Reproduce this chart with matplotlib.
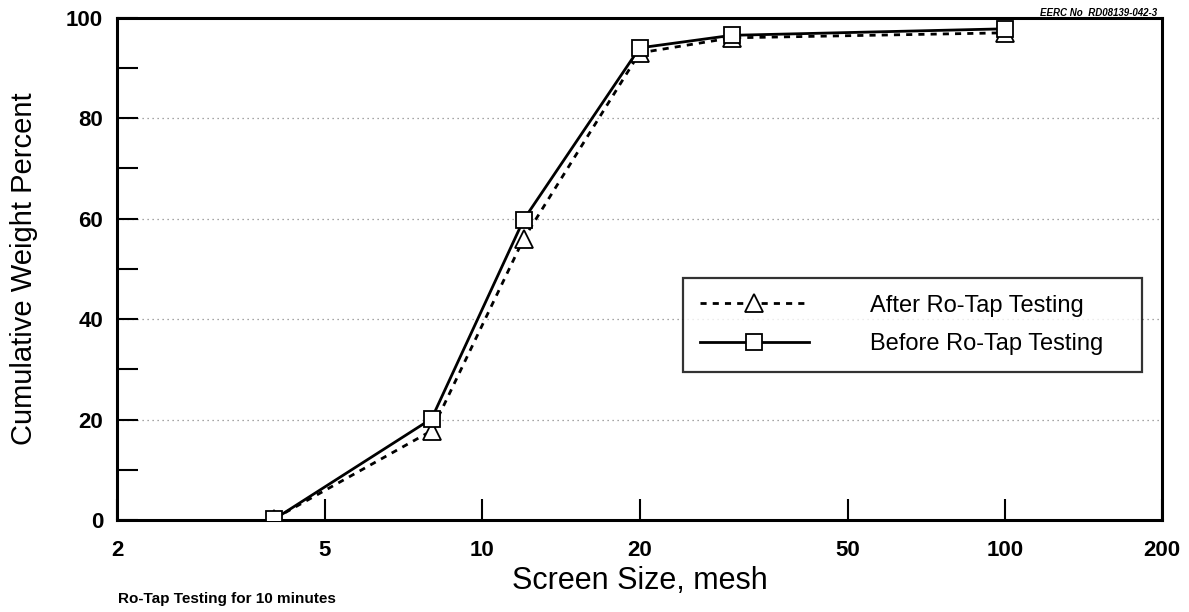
import matplotlib.pyplot as plt
from matplotlib.ticker import FixedLocator, FixedFormatter, NullLocator

plt.rcParams['font.family'] = ['Liberation Sans', 'DejaVu Sans']

# data
mesh = [4, 8, 12, 20, 30, 100]
after = [0.3, 17.8, 56, 93, 96, 97]
before = [0.2, 20.2, 59.8, 94, 96.5, 97.8]

x_ticks = [2, 5, 10, 20, 50, 100, 200]
y_ticks = [0, 20, 40, 60, 80, 100]

fig = plt.figure(figsize=(11.89, 6.12), dpi=100)
ax = fig.add_axes([0.0984, 0.150, 0.879, 0.821])

ax.plot(mesh, after, color='black', linestyle=(0, (2.2, 2.2)), linewidth=2.0,
        marker='^', markersize=13, markerfacecolor='white', markeredgewidth=1.3,
        label='After Ro-Tap Testing', zorder=3)
ax.plot(mesh, before, color='black', linestyle='-', linewidth=2.0,
        marker='s', markersize=12, markerfacecolor='white', markeredgewidth=1.3,
        label='Before Ro-Tap Testing', zorder=4)

ax.set_xscale('log')
ax.set_xlim(2, 200)
ax.set_ylim(0, 100)

ax.xaxis.set_major_locator(FixedLocator(x_ticks))
ax.xaxis.set_major_formatter(FixedFormatter([str(t) for t in x_ticks]))
ax.xaxis.set_minor_locator(NullLocator())
ax.set_yticks(y_ticks)
ax.set_yticks(range(10, 100, 20), minor=True)

ax.tick_params(axis='both', which='both', direction='in', length=15, width=1.5,
               labelsize=16, pad=10)
ax.tick_params(axis='x', pad=14)
for lbl in ax.get_xticklabels() + ax.get_yticklabels():
    lbl.set_fontweight('bold')

for s in ax.spines.values():
    s.set_linewidth(2.2)

for y in [20, 40, 60, 80]:
    ax.axhline(y, color='#888888', linestyle=(0, (1, 3)), linewidth=0.9, zorder=1)

ax.set_xlabel('Screen Size, mesh', fontsize=22, labelpad=4)
ax.set_ylabel('Cumulative Weight Percent', fontsize=21, labelpad=20)

leg = ax.legend(loc='upper left', bbox_to_anchor=(0.542, 0.299, 0.439, 0.183),
                mode='expand', fontsize=17, frameon=True, fancybox=False,
                handlelength=4.6, handletextpad=2.6, borderpad=0.7,
                borderaxespad=0, labelspacing=0.7, edgecolor='black')
leg.get_frame().set_linewidth(1.6)

fig.text(0.875, 0.978, 'EERC No  RD08139-042-3', fontsize=7, fontweight='bold',
         style='italic', ha='left', va='center')
fig.text(0.099, 0.022, 'Ro-Tap Testing for 10 minutes', fontsize=11,
         fontweight='bold', ha='left', va='center')

fig.savefig('out.png', dpi=100)
